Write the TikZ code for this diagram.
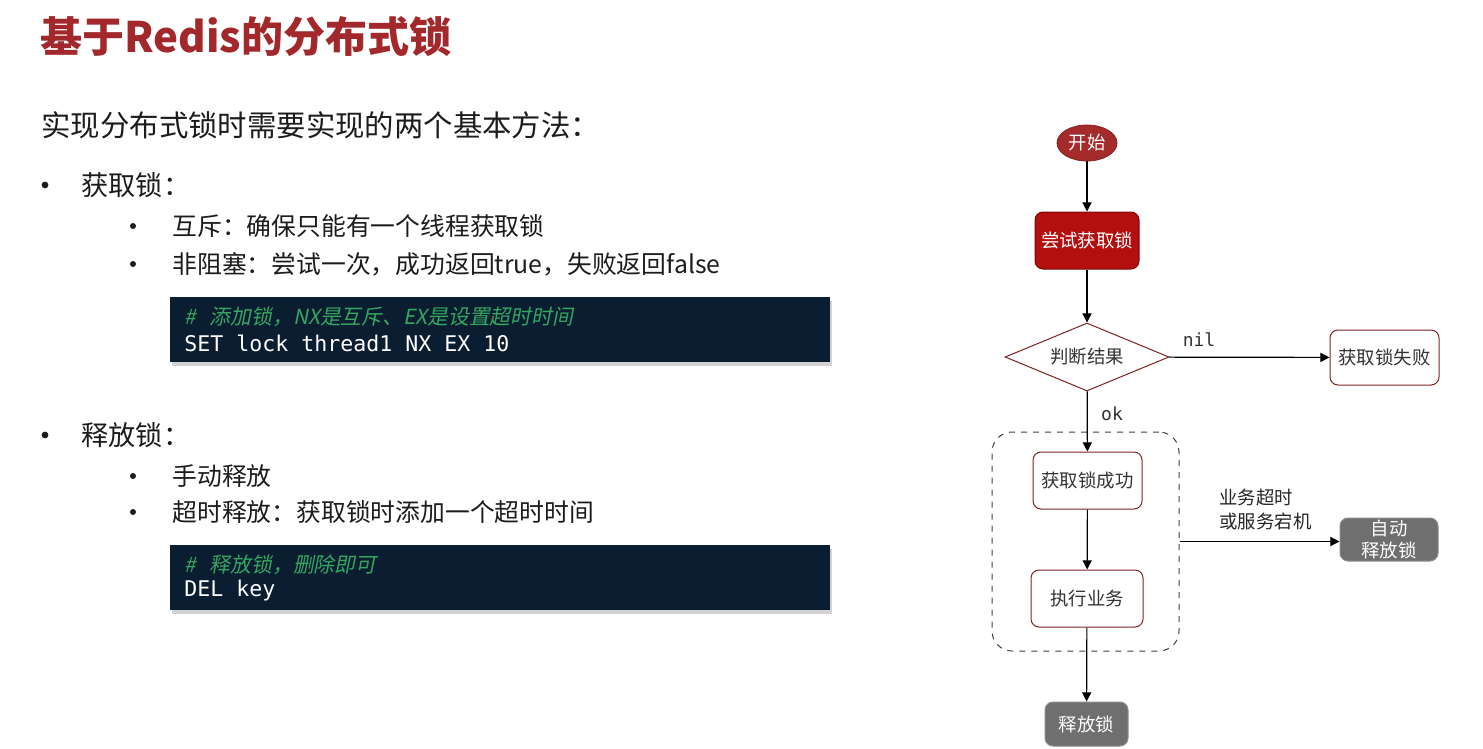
\documentclass[tikz,border=0pt]{standalone}
\usepackage{fontspec}
\setmainfont{Noto Sans CJK SC}
\newfontfamily\cjkslant{Noto Sans CJK SC}[FakeSlant=0.2]
\setmonofont{DejaVu Sans Mono}
\usepackage{tikz}
\usetikzlibrary{arrows, arrows.meta}
\usetikzlibrary{shapes.geometric, positioning, calc, shadows}
\usepackage{xcolor}

\definecolor{titlered}{HTML}{A3282B}
\definecolor{startred}{HTML}{A52A2A}
\definecolor{tryred}{HTML}{B30F0F}
\definecolor{boxline}{HTML}{7E2222}
\definecolor{codebg}{HTML}{0B1E31}
\definecolor{codegreen}{HTML}{33A660}
\definecolor{lockgray}{HTML}{6F6F6F}
\definecolor{inktext}{HTML}{1C1C1C}

\tikzset{
  txt/.style={anchor=west, inner sep=0pt, text=inktext},
  codebox/.style={anchor=north west, fill=codebg, minimum width=330pt, minimum height=32.5pt,
    drop shadow={opacity=0.35, shadow xshift=1pt, shadow yshift=-2pt}},
  flowbox/.style={rectangle, rounded corners=4pt, draw=boxline, line width=0.5pt, fill=white,
    text=black!80, font=\fontsize{9.2}{11}\selectfont, align=center, inner sep=0pt},
  graybox/.style={flowbox, draw=lockgray!80, fill=lockgray, text=white},
  link/.style={->, line width=0.6pt},
}

\begin{document}
\begin{tikzpicture}[x=0.5pt, y=-0.5pt, >={Triangle[length=4.6pt, width=4.6pt]}]
      \useasboundingbox[fill=white] (0,0) rectangle (1483,749);

      % left side
      \node[txt, text=titlered, font=\fontsize{21}{24}\selectfont\bfseries] (title) at (40,37) {基于Redis的分布式锁};
      \node[txt, font=\fontsize{14.7}{17}\selectfont] (intro) at (41,125) {实现分布式锁时需要实现的两个基本方法：};

      \node[txt, font=\fontsize{13.6}{16}\selectfont] (acq) at (81,185) {获取锁：};
      \node[txt, font=\fontsize{12.4}{15}\selectfont] (acq1) at (172,226) {互斥：确保只能有一个线程获取锁};
      \node[txt, font=\fontsize{12.4}{15}\selectfont] (acq2) at (172,264) {非阻塞：尝试一次，成功返回true，失败返回false};

      \node[txt, font=\fontsize{13.6}{16}\selectfont] (rls) at (81,435) {释放锁：};
      \node[txt, font=\fontsize{12.4}{15}\selectfont] (rls1) at (172,476) {手动释放};
      \node[txt, font=\fontsize{12.4}{15}\selectfont] (rls2) at (172,512) {超时释放：获取锁时添加一个超时时间};

      \foreach \y in {185, 435} \fill[inktext] (45,\y) circle (1.7pt);
      \foreach \y in {226, 264, 476, 512} \fill[inktext] (133,\y) circle (1.5pt);

      \node[codebox] (code1) at (170,297) {};
      \node[txt, text=codegreen, font=\cjkslant\fontsize{10.4}{12}\selectfont] (code1c) at (184,317) {\#\hspace{7pt}添加锁，NX是互斥、EX是设置超时时间};
      \node[txt, text=white, font=\ttfamily\fontsize{10.8}{13}\selectfont] (code1s) at (184,343) {SET lock thread1 NX EX 10};

      \node[codebox] (code2) at (170,545) {};
      \node[txt, text=codegreen, font=\cjkslant\fontsize{10.4}{12}\selectfont] (code2c) at (184,565) {\#\hspace{7pt}释放锁，删除即可};
      \node[txt, text=white, font=\ttfamily\fontsize{10.8}{13}\selectfont] (code2s) at (184,591) {DEL key};

      % flow chart
      \node[ellipse, fill=startred, draw=startred!80!black, minimum width=30pt, minimum height=18pt, inner sep=0pt,
            text=white, font=\fontsize{9.2}{11}\selectfont] (start) at (1087,143) {开始};
      \node[flowbox, fill=tryred, draw=tryred!70!black, text=white, minimum width=52pt, minimum height=28.5pt] (try) at (1087,240.5) {尝试获取锁};
      \node[diamond, aspect=2.4, draw=boxline, line width=0.5pt, fill=white, inner sep=0pt, minimum width=82pt, minimum height=34pt,
            text=black!80, font=\fontsize{9.2}{11}\selectfont] (judge) at (1087,357) {判断结果};
      \node[flowbox, minimum width=54.5pt, minimum height=27.5pt] (fail) at (1384.5,357.5) {获取锁失败};

      \node[draw=black!75, dashed, rounded corners=10pt, line width=0.5pt, minimum width=93.5pt, minimum height=109.5pt] (grp) at (1085.5,541.5) {};
      \node[flowbox, minimum width=54.5pt, minimum height=28.5pt] (succ) at (1087.5,480.5) {获取锁成功};
      \node[flowbox, minimum width=56pt, minimum height=28.5pt] (work) at (1087,598.5) {执行业务};
      \node[graybox, minimum width=41.5pt, minimum height=22pt] (rel) at (1086.5,724) {释放锁};
      \node[graybox, minimum width=49pt, minimum height=21.5pt, font=\fontsize{9.2}{11}\selectfont] (auto) at (1389,539.5) {自动\\释放锁};

      \draw[link] (start) -- (try);
      \draw[link] (try) -- (judge);
      \draw[link] (judge) -- (fail);
      \draw[link] (judge) -- (succ);
      \draw[link] (succ) -- (work);
      \draw[link] (work) -- (rel);
      \draw[link] (grp.east) -- (grp.east -| auto.west);

      \node[text=black!80, font=\ttfamily\fontsize{9}{11}\selectfont] (nil) at (1199,340) {nil};
      \node[text=black!80, font=\ttfamily\fontsize{9}{11}\selectfont] (ok) at (1112,414) {ok};
      \node[txt, text=black!85, align=left, font=\fontsize{9.2}{12}\selectfont] (why) at (1219,510) {业务超时\\或服务宕机};
    \end{tikzpicture}
\end{document}
